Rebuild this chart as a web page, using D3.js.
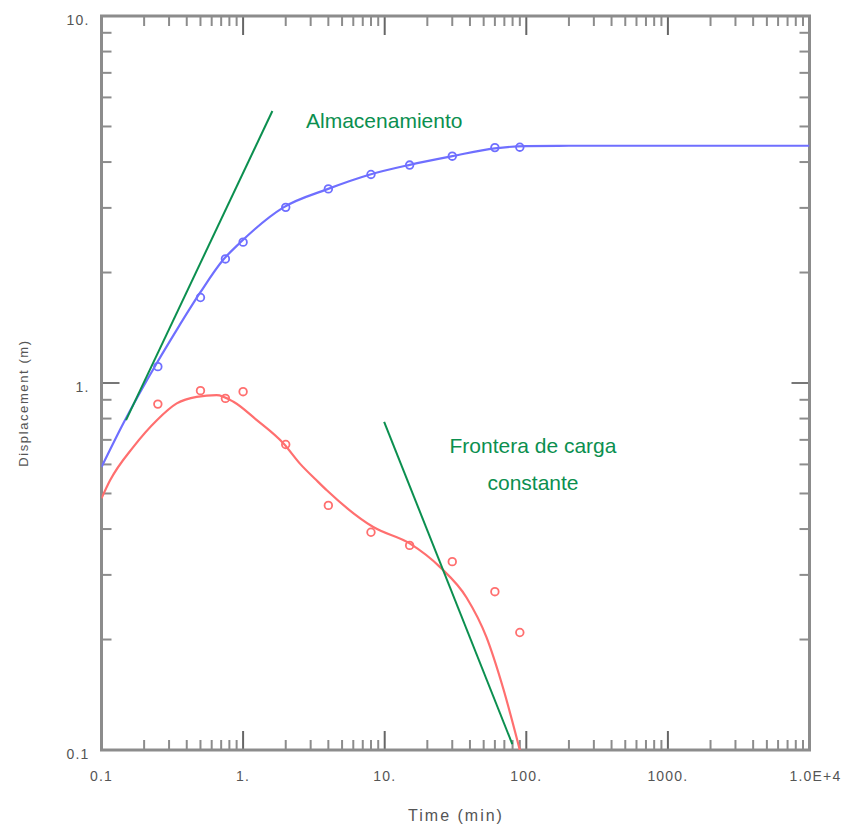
<!DOCTYPE html>
<html>
<head>
<meta charset="utf-8">
<script src="https://cdn.jsdelivr.net/npm/d3@7"></script>
<style>
  html, body { margin: 0; padding: 0; background: #fff; }
  svg { display: block; }
  text { font-family: "Liberation Sans", Arial, sans-serif; }
</style>
</head>
<body>
<div id="chart"></div>
<script>
// ---- Data ----
const markerTimes = [0.25, 0.5, 0.75, 1, 2, 4, 8, 15, 30, 60, 90];
const blueObserved = [1.108, 1.71, 2.178, 2.42, 3.01, 3.38, 3.70, 3.925, 4.15, 4.38, 4.39];
const redObserved  = [0.876, 0.953, 0.908, 0.947, 0.68, 0.464, 0.392, 0.361, 0.326, 0.27, 0.209];

const blueFitTimes  = [0.1, 0.143, 0.246, 0.34, 0.497, 0.726, 0.95, 1.93, 3.9, 7.9, 15, 30, 60, 100, 200, 10000];
const blueFitValues = [0.59, 0.778, 1.134, 1.396, 1.762, 2.17, 2.41, 3.01, 3.37, 3.70, 3.93, 4.15, 4.36, 4.42, 4.43, 4.43];

const redFitTimes  = [0.1, 0.115, 0.168, 0.246, 0.34, 0.47, 0.65, 0.855, 1.25, 1.93, 2.52, 3.3, 3.9, 8.3, 15.1, 24.6, 37.9, 52.3, 68.4, 90];
const redFitValues = [0.485, 0.543, 0.67, 0.792, 0.88, 0.917, 0.927, 0.889, 0.792, 0.684, 0.603, 0.543, 0.51, 0.405, 0.365, 0.315, 0.26, 0.203, 0.148, 0.1];

const storageLine  = [[0.149, 0.792], [1.61, 5.51]];
const boundaryLine = [[9.91, 0.784], [79.6, 0.1038]];

const xTickValues = [0.1, 1, 10, 100, 1000, 10000];
const xTickLabels = ["0.1", "1.", "10.", "100.", "1000.", "1.0E+4"];
const yTickValues = [0.1, 1, 10];
const yTickLabels = ["0.1", "1.", "10."];

const xTitle = "Time (min)";
const yTitle = "Displacement (m)";
const annoStorage = "Almacenamiento";
const annoBoundary = ["Frontera de carga", "constante"];

// ---- Layout ----
const W = 848, H = 824;
const pLeft = 101.5, pRight = 809.5, pTop = 16, pBottom = 750;

const x = d3.scaleLog().domain([0.1, 10000]).range([pLeft, pRight]);
const y = d3.scaleLog().domain([0.1, 10]).range([pBottom, pTop]);

const svg = d3.select("#chart").append("svg").attr("width", W).attr("height", H);

const axisColor = "#8c8c8c";
const green = "#0b8f4f";
const blue = "#6f6fff";
const red = "#ff6f6f";

function minorTicks(lo, hi) {
  const out = [];
  for (let d = lo; d < hi * 0.999; d *= 10) {
    for (let k = 2; k <= 9; k++) out.push(d * k);
  }
  return out;
}
const xMinor = minorTicks(0.1, 10000);
const yMinor = minorTicks(0.1, 10);

const ticks = svg.append("g").attr("stroke", axisColor).attr("stroke-width", 2);
xMinor.forEach(v => {
  ticks.append("line").attr("x1", x(v)).attr("x2", x(v)).attr("y1", pBottom).attr("y2", pBottom - 10);
  ticks.append("line").attr("x1", x(v)).attr("x2", x(v)).attr("y1", pTop).attr("y2", pTop + 10);
});
xTickValues.forEach(v => {
  ticks.append("line").attr("x1", x(v)).attr("x2", x(v)).attr("y1", pBottom).attr("y2", pBottom - 19).attr("stroke", "#666");
  ticks.append("line").attr("x1", x(v)).attr("x2", x(v)).attr("y1", pTop).attr("y2", pTop + 19).attr("stroke", "#666");
});
yMinor.forEach(v => {
  ticks.append("line").attr("y1", y(v)).attr("y2", y(v)).attr("x1", pLeft).attr("x2", pLeft + 10);
  ticks.append("line").attr("y1", y(v)).attr("y2", y(v)).attr("x1", pRight).attr("x2", pRight - 10);
});
yTickValues.forEach(v => {
  ticks.append("line").attr("y1", y(v)).attr("y2", y(v)).attr("x1", pLeft).attr("x2", pLeft + 18).attr("stroke", "#777");
  ticks.append("line").attr("y1", y(v)).attr("y2", y(v)).attr("x1", pRight).attr("x2", pRight - 18).attr("stroke", "#777");
});

svg.append("rect")
  .attr("x", pLeft).attr("y", pTop)
  .attr("width", pRight - pLeft).attr("height", pBottom - pTop)
  .attr("fill", "none").attr("stroke", axisColor).attr("stroke-width", 3);

const lab = svg.append("g").attr("fill", "#555").attr("font-size", 14).attr("letter-spacing", 1.2);
xTickValues.forEach((v, i) => {
  lab.append("text").attr("x", x(v) + (i === xTickValues.length - 1 ? 6 : 0)).attr("y", pBottom + 31)
    .attr("text-anchor", "middle").text(xTickLabels[i]);
});
yTickValues.forEach((v, i) => {
  lab.append("text").attr("x", pLeft - 12).attr("y", y(v) + 9)
    .attr("text-anchor", "end").text(yTickLabels[i]);
});

svg.append("text").attr("x", 456).attr("y", 821)
  .attr("text-anchor", "middle").attr("font-size", 16).attr("fill", "#555")
  .attr("letter-spacing", 2).text(xTitle);
svg.append("text").attr("transform", "translate(28,403) rotate(-90)")
  .attr("text-anchor", "middle").attr("font-size", 13).attr("fill", "#555")
  .attr("letter-spacing", 1.6).text(yTitle);

svg.append("clipPath").attr("id", "plotclip").append("rect")
  .attr("x", pLeft).attr("y", pTop).attr("width", pRight - pLeft).attr("height", pBottom - pTop);
const plot = svg.append("g").attr("clip-path", "url(#plotclip)");

const line = d3.line().x(d => x(d[0])).y(d => y(d[1])).curve(d3.curveMonotoneX);

plot.append("path")
  .datum(blueFitTimes.map((t, i) => [t, blueFitValues[i]]))
  .attr("d", line).attr("fill", "none").attr("stroke", blue).attr("stroke-width", 2.2);
plot.append("path")
  .datum(redFitTimes.map((t, i) => [t, redFitValues[i]]))
  .attr("d", line).attr("fill", "none").attr("stroke", red).attr("stroke-width", 2.2);

plot.selectAll("circle.b").data(markerTimes.map((t, i) => [t, blueObserved[i]]))
  .join("circle").attr("class", "b")
  .attr("cx", d => x(d[0])).attr("cy", d => y(d[1])).attr("r", 3.8)
  .attr("fill", "none").attr("stroke", blue).attr("stroke-width", 1.8);
plot.selectAll("circle.r").data(markerTimes.map((t, i) => [t, redObserved[i]]))
  .join("circle").attr("class", "r")
  .attr("cx", d => x(d[0])).attr("cy", d => y(d[1])).attr("r", 3.8)
  .attr("fill", "none").attr("stroke", red).attr("stroke-width", 1.8);

const straight = d3.line().x(d => x(d[0])).y(d => y(d[1]));
[storageLine, boundaryLine].forEach(seg => {
  svg.append("path").attr("d", straight(seg))
    .attr("fill", "none").attr("stroke", green).attr("stroke-width", 2);
});

svg.append("text").attr("x", 306).attr("y", 128)
  .attr("font-size", 21).attr("fill", green).text(annoStorage);
svg.append("text").attr("x", 533).attr("y", 453)
  .attr("text-anchor", "middle").attr("font-size", 21).attr("fill", green).text(annoBoundary[0]);
svg.append("text").attr("x", 533).attr("y", 490)
  .attr("text-anchor", "middle").attr("font-size", 21).attr("fill", green).text(annoBoundary[1]);
</script>
</body>
</html>
